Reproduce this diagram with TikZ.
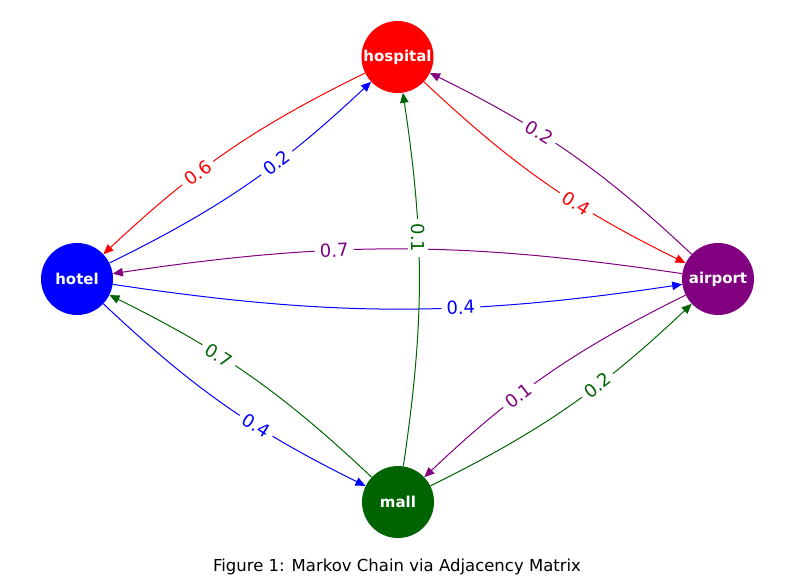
\documentclass[tikz,border=0pt]{standalone}
\usepackage{fontspec}
\setmainfont{DejaVu Sans}
\usetikzlibrary{arrows.meta}
\definecolor{mpurple}{RGB}{128,0,128}
\definecolor{mgreen}{RGB}{0,100,0}
\begin{document}
\begin{tikzpicture}[x=1pt,y=1pt,
  state/.style={circle, minimum size=72pt, inner sep=0pt, text=white, font=\fontsize{15}{15}\selectfont\bfseries},
  edge/.style={-{Triangle[length=10pt,width=8.5pt]}, line width=1pt, bend right=8.5},
  labb/.style={fill=white, inner xsep=5pt, inner ysep=3pt, font=\fontsize{18}{18}\selectfont, pos=0.62},
  lab/.style={labb, sloped}]
\useasboundingbox (0,0) rectangle (794,587);
\node[state, fill=red] (hospital) at (397.5,530) {hospital};
\node[state, fill=blue] (hotel) at (77,308) {hotel};
\node[state, fill=mpurple] (airport) at (718,308) {airport};
\node[state, fill=mgreen] (mall) at (398,85) {mall};

\draw[edge, red] (hospital) to node[lab, text=red] {0.6} (hotel);
\draw[edge, red] (hospital) to node[lab, text=red] {0.4} (airport);
\draw[edge, blue] (hotel) to node[lab, text=blue] {0.2} (hospital);
\draw[edge, blue] (hotel) to node[lab, text=blue] {0.4} (airport);
\draw[edge, blue] (hotel) to node[lab, text=blue] {0.4} (mall);
\draw[edge, mpurple] (airport) to node[lab, text=mpurple] {0.2} (hospital);
\draw[edge, mpurple] (airport) to node[lab, text=mpurple] {0.7} (hotel);
\draw[edge, mpurple] (airport) to node[lab, text=mpurple] {0.1} (mall);
\draw[edge, mgreen] (mall) to node[labb, rotate=-90, text=mgreen] {0.1} (hospital);
\draw[edge, mgreen] (mall) to node[lab, text=mgreen] {0.7} (hotel);
\draw[edge, mgreen] (mall) to node[lab, text=mgreen] {0.2} (airport);

\node[font=\fontsize{16.5}{16.5}\selectfont] (caption) at (397,20) {Figure 1: Markov Chain via Adjacency Matrix};
\end{tikzpicture}
\end{document}
